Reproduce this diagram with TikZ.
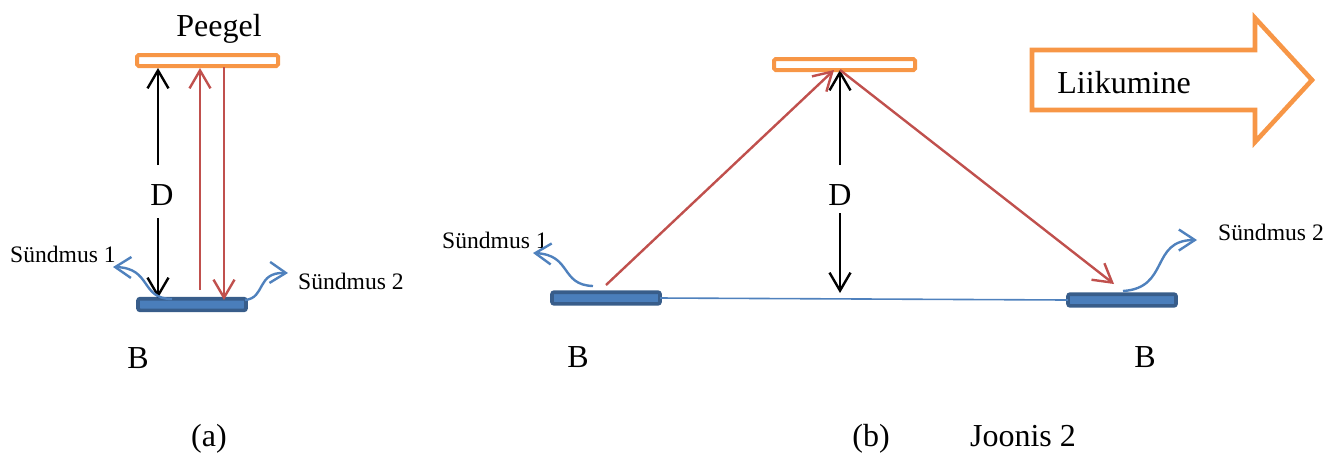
\documentclass[tikz,border=0pt]{standalone}
\usepackage{fontspec}
\setmainfont{Liberation Serif}
\usetikzlibrary{positioning, arrows.meta}
\definecolor{mirrororange}{HTML}{F79646}
\definecolor{rayred}{HTML}{C0504D}
\definecolor{eventblue}{HTML}{4F81BD}
\definecolor{detblue}{HTML}{4A7EBB}
\definecolor{detdark}{HTML}{385D8A}

\begin{document}
\begin{tikzpicture}[x=0.5pt, y=-0.5pt]
  % Define styles for the parts of the picture
  \tikzset{
    mirror/.style={rectangle, draw=mirrororange, fill=white, line width=2pt, minimum width=70.5pt, minimum height=5.5pt, inner sep=0pt, outer sep=0pt, rounded corners=0.8pt},
    detector/.style={rectangle, draw=detdark, fill=detblue, line width=1.8pt, minimum width=54pt, minimum height=5.8pt, inner sep=0pt, outer sep=0pt, rounded corners=1pt},
    ray/.style={draw=rayred, line width=1.2pt, -{Straight Barb[length=9pt,width=10.5pt]}},
    dist/.style={draw=black, line width=1.2pt, -{Straight Barb[length=9pt,width=10.5pt]}},
    event/.style={draw=eventblue, line width=1.2pt, -{Straight Barb[length=8pt,width=10.5pt]}},
    biglabel/.style={font=\fontsize{16}{19}\selectfont, anchor=base, inner sep=0pt},
    smalllabel/.style={font=\fontsize{11.8}{14}\selectfont, anchor=base, inner sep=0pt}
  }
  \useasboundingbox (0,0) rectangle (1326,457);

  % (a): clock at rest
  \node[mirror] (mirrorA) at (207.5,60.5) {};
  \node[detector] (detA) at (192,304.5) {};
  \node[biglabel] (peegel) at (219,36) {Peegel};
  \node[biglabel] (distA) at (162,205) {D};
  \node[biglabel] (bA) at (138,368) {B};
  \node[biglabel] (capA) at (209,446) {(a)};
  \node[smalllabel] (evA1) at (63,262) {Sündmus 1};
  \node[smalllabel] (evA2) at (351,289) {Sündmus 2};

  \coordinate (topA) at (158,68);
  \coordinate (gapA1) at (158,165);
  \coordinate (gapA2) at (158,218);
  \coordinate (botA) at (158,298);
  \coordinate (upA0) at (200,290);
  \coordinate (upA1) at (200,68);
  \coordinate (dnA0) at (224,67);
  \coordinate (dnA1) at (224,300);
  \coordinate (evA1s) at (172,299);
  \coordinate (evA1e) at (113,267);
  \coordinate (evA2s) at (245,300);
  \coordinate (evA2e) at (288,273);

  \draw[dist] (gapA1) -- (topA);
  \draw[dist] (gapA2) -- (botA);
  \draw[ray] (upA0) -- (upA1);
  \draw[ray] (dnA0) -- (dnA1);
  \draw[event] (evA1s) .. controls (140,299) and (152,268) .. (evA1e);
  \draw[event] (evA2s) .. controls (266,298) and (256,272) .. (evA2e);

  % (b): clock in motion
  \node[mirror] (mirrorB) at (844.5,64.5) {};
  \node[detector] (detB1) at (606,298) {};
  \node[detector] (detB2) at (1122,300) {};
  \draw[eventblue, line width=0.8pt] (detB1.east) -- (detB2.west);
  \node[biglabel] (distB) at (840,205) {D};
  \node[biglabel] (bB1) at (578,367) {B};
  \node[biglabel] (bB2) at (1145,367) {B};
  \node[biglabel] (capB) at (871,446) {(b)};
  \node[biglabel] (joonis) at (1023,446) {Joonis 2};
  \node[smalllabel] (evB1) at (495,248) {Sündmus 1};
  \node[smalllabel] (evB2) at (1271,240) {Sündmus 2};

  \coordinate (topB) at (840,70);
  \coordinate (gapB1) at (840,165);
  \coordinate (gapB2) at (840,213);
  \coordinate (botB) at (840,293);
  \coordinate (rayB0) at (606,285);
  \coordinate (rayB1) at (834,70);
  \coordinate (rayB2) at (840,70);
  \coordinate (rayB3) at (1114,284);
  \coordinate (evB1s) at (593,286);
  \coordinate (evB1e) at (533,253);
  \coordinate (evB2s) at (1123,291);
  \coordinate (evB2e) at (1197,240);

  \draw[dist] (gapB1) -- (topB);
  \draw[dist] (gapB2) -- (botB);
  \draw[ray] (rayB0) -- (rayB1);
  \draw[ray] (rayB2) -- (rayB3);
  \draw[event] (evB1s) .. controls (560,285) and (572,255) .. (evB1e);
  \draw[event] (evB2s) .. controls (1170,288) and (1150,240) .. (evB2e);

  % Motion arrow
  \draw[mirrororange, line width=2.3pt, line join=miter] (1032,50) -- (1255,50) -- (1255,18) -- (1312,80) -- (1255,142) -- (1255,110) -- (1032,110) -- cycle;
  \node[biglabel, anchor=base west] (motion) at (1057,93) {Liikumine};
\end{tikzpicture}
\end{document}
